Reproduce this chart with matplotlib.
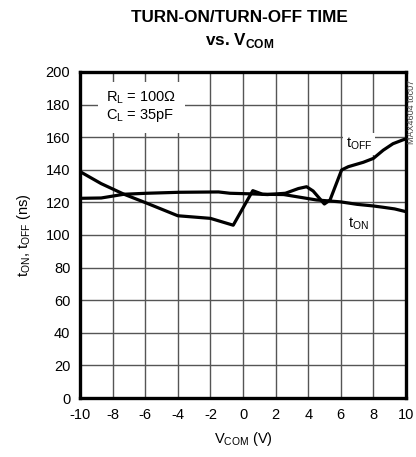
import matplotlib
matplotlib.use('Agg')
import matplotlib.pyplot as plt

plt.rcParams['font.family'] = ['Liberation Sans', 'DejaVu Sans']
plt.rcParams['mathtext.fontset'] = 'custom'
plt.rcParams['mathtext.rm'] = 'Liberation Sans'
plt.rcParams['mathtext.bf'] = 'Liberation Sans:bold'
plt.rcParams['axes.unicode_minus'] = False

# data
v_on = [-10, -8.7, -7.3, -5.9, -4.0, -2.0, -0.6, 0.6, 1.2, 2.5, 4.5, 6.0, 7.0, 8.0, 8.6, 9.3, 10]
t_on = [138.9, 131.5, 125.0, 119.5, 111.8, 110.2, 106.0, 127.2, 125.0, 124.8, 121.5, 120.3, 118.8, 117.8, 117.0, 116.0, 114.3]

v_off = [-10, -8.7, -7.3, -5.9, -3.9, -1.5, -0.8, 0.6, 1.5, 2.6, 3.4, 3.9, 4.3, 4.99, 5.34, 6.05, 6.46, 7.38, 8.0, 8.6, 9.2, 9.85, 10]
t_off = [122.5, 122.7, 125.0, 125.6, 126.2, 126.4, 125.6, 125.2, 124.8, 125.6, 128.5, 129.6, 127.0, 119.0, 121.5, 139.9, 141.9, 144.6, 147.0, 152.0, 156.0, 158.5, 158.8]

x_ticks = list(range(-10, 11, 2))
y_ticks = list(range(0, 201, 20))

fig = plt.figure(figsize=(4.16, 4.57), dpi=100)
ax = fig.add_axes([0.1923, 0.1291, 0.7837, 0.7134])

ax.plot(v_on, t_on, color='black', lw=2.3, solid_joinstyle='round', zorder=3)
ax.plot(v_off, t_off, color='black', lw=2.3, solid_joinstyle='round', zorder=3)

ax.set_xlim(-10, 10)
ax.set_ylim(0, 200)
ax.set_xticks(x_ticks)
ax.set_yticks(y_ticks)
ax.grid(True, color='#555555', lw=1.0)
ax.set_axisbelow(True)
ax.tick_params(length=0, labelsize=10.5, pad=7)
for s in ax.spines.values():
    s.set_linewidth(2.4)

ax.set_xlabel('V$_\\mathregular{COM}$ (V)', fontsize=10.5, labelpad=6)
ax.set_ylabel('t$_\\mathregular{ON}$, t$_\\mathregular{OFF}$ (ns)', fontsize=10.5, labelpad=9)

bb = dict(facecolor='white', edgecolor='none', pad=2)
ax.text(-8.4, 178.5, 'R$_\\mathregular{L}$ = 100$\\Omega$\nC$_\\mathregular{L}$ = 35pF', fontsize=10.5,
        va='center', ha='left', linespacing=1.1, zorder=4,
        bbox=dict(facecolor='white', edgecolor='none', pad=6))
ax.text(7.1, 156, 't$_\\mathregular{OFF}$', fontsize=10.5, ha='center', va='center', zorder=4, bbox=bb)
ax.text(7.1, 107, 't$_\\mathregular{ON}$', fontsize=10.5, ha='center', va='center', zorder=4, bbox=bb)

fig.text(0.988, 0.755, 'MAX4604 toc07', rotation=90, fontsize=6.5, color='#444444',
         ha='center', va='center')

fig.text(0.575, 0.962, 'TURN-ON/TURN-OFF TIME', fontsize=12.3, fontweight='bold',
         ha='center', va='center')
fig.text(0.575, 0.912, 'vs. V$_\\mathbf{COM}$', fontsize=12.3, fontweight='bold',
         ha='center', va='center')

fig.savefig('out.png', dpi=100)
